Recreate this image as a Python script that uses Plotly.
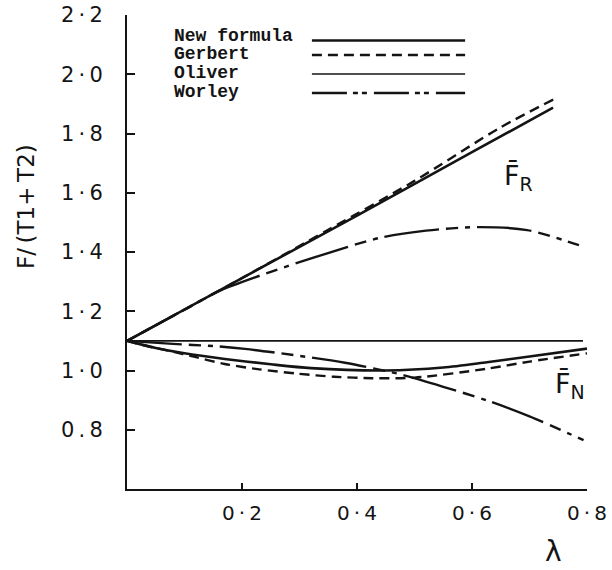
import plotly.graph_objects as go

# ---- data ----
lam_new_R = [0.0, 0.2, 0.4, 0.6, 0.741]
new_R = [1.100, 1.312, 1.523, 1.737, 1.887]

lam_gerb_R = [0.0, 0.2, 0.35, 0.5, 0.649, 0.744]
gerb_R = [1.100, 1.312, 1.475, 1.640, 1.820, 1.917]

lam_worl_R = [0.0, 0.1, 0.16, 0.25, 0.323, 0.44, 0.52, 0.609, 0.696, 0.786]
worl_R = [1.100, 1.205, 1.268, 1.333, 1.380, 1.448, 1.472, 1.484, 1.474, 1.423]

lam_oliv = [0.0, 0.793]
oliv = [1.100, 1.100]

lam_new_N = [0.0, 0.05, 0.1, 0.17, 0.25, 0.32, 0.45, 0.55, 0.626, 0.7, 0.8]
new_N = [1.100, 1.076, 1.058, 1.039, 1.021, 1.008, 1.000, 1.010, 1.028, 1.047, 1.074]

lam_gerb_N = [0.0, 0.04, 0.072, 0.12, 0.17, 0.23, 0.298, 0.36, 0.426, 0.5, 0.626, 0.7, 0.8]
gerb_N = [1.100, 1.080, 1.067, 1.045, 1.022, 1.004, 0.989, 0.979, 0.974, 0.976, 1.006, 1.030, 1.058]

lam_worl_N = [0.0, 0.08, 0.153, 0.205, 0.29, 0.379, 0.48, 0.55, 0.626, 0.7, 0.794]
worl_N = [1.100, 1.090, 1.082, 1.073, 1.052, 1.026, 0.985, 0.945, 0.899, 0.845, 0.765]

x_ticks = [0.2, 0.4, 0.6, 0.8]
x_ticktext = ["0\u2009·\u20092", "0\u2009·\u20094", "0\u2009·\u20096", "0\u2009·\u20098"]
y_ticks = [0.8, 1.0, 1.2, 1.4, 1.6, 1.8, 2.0, 2.2]
y_ticktext = ["0\u2009.\u20098", "1\u2009·\u20090", "1\u2009·\u20092", "1\u2009·\u20094",
              "1\u2009·\u20096", "1\u2009·\u20098", "2\u2009·\u20090", "2\u2009·\u20092"]

legend_names = ["New formula", "Gerbert", "Oliver", "Worley"]

INK = "#141414"
WORLEY_DASH = "55px,7px,12px,7px,5px,7px"

styles = {
    "New formula": dict(color=INK, width=2.6, dash="solid"),
    "Gerbert": dict(color=INK, width=2.4, dash="10px,6px"),
    "Oliver": dict(color=INK, width=1.6, dash="solid"),
    "Worley": dict(color=INK, width=2.4, dash=WORLEY_DASH),
}

fig = go.Figure()

series = [
    ("Oliver", lam_oliv, oliv),
    ("New formula", lam_new_R, new_R),
    ("Gerbert", lam_gerb_R, gerb_R),
    ("Worley", lam_worl_R, worl_R),
    ("New formula", lam_new_N, new_N),
    ("Gerbert", lam_gerb_N, gerb_N),
    ("Worley", lam_worl_N, worl_N),
]
for name, xs, ys in series:
    fig.add_trace(go.Scatter(x=xs, y=ys, mode="lines", name=name, showlegend=False,
                             line=dict(shape="spline", smoothing=0.8, **styles[name])))

# ---- hand-made legend: text left, line sample right ----
text_y = [0.9557, 0.9177, 0.8776, 0.8376]
line_y = [0.9462, 0.9156, 0.8755, 0.8354]
for name, ty, ly in zip(legend_names, text_y, line_y):
    fig.add_annotation(x=0.0978, y=ty, xref="paper", yref="paper", text="<b>" + name + "</b>",
                       showarrow=False, xanchor="left", yanchor="middle",
                       font=dict(family="Liberation Mono", size=18, color=INK))
    st = styles[name]
    dash = "35px,6px,5px,4px,5px,7px" if name == "Worley" else st["dash"]
    fig.add_shape(type="line", xref="paper", yref="paper", x0=0.402, x1=0.735,
                  y0=ly, y1=ly, line=dict(color=INK, width=st["width"], dash=dash))

# curve labels
fig.add_annotation(x=0.68, y=1.65, text="F\u0304<sub>R</sub>", showarrow=False,
                   xanchor="center", yanchor="middle",
                   font=dict(family="DejaVu Sans", size=27, color=INK))
fig.add_annotation(x=0.77, y=0.95, text="F\u0304<sub>N</sub>", showarrow=False,
                   xanchor="center", yanchor="middle",
                   font=dict(family="DejaVu Sans", size=27, color=INK))

# axis titles
fig.add_annotation(x=-0.2196, y=0.597, xref="paper", yref="paper",
                   text="F/\u2009(T1+\u2009T2)",
                   textangle=-90, showarrow=False, xanchor="center", yanchor="middle",
                   font=dict(family="DejaVu Sans", size=23, color=INK))
fig.add_annotation(x=0.928, y=-0.131, xref="paper", yref="paper", text="λ",
                   showarrow=False, xanchor="center", yanchor="middle",
                   font=dict(family="DejaVu Sans", size=28, color=INK))

fig.update_layout(
    width=612, height=570,
    margin=dict(l=127, r=25, t=15, b=81, autoexpand=False),
    paper_bgcolor="white", plot_bgcolor="white",
    showlegend=False,
    font=dict(family="DejaVu Sans", size=20, color=INK),
)
fig.update_xaxes(range=[0, 0.8], tickvals=x_ticks, ticktext=x_ticktext, automargin=False,
                 showgrid=False, zeroline=False, showline=True, linecolor=INK, linewidth=2,
                 ticks="inside", ticklen=6, tickwidth=2, tickcolor=INK,
                 ticklabelstandoff=5, ticklabeloverflow="allow", tickfont=dict(size=20))
fig.update_yaxes(range=[0.6, 2.2], tickvals=y_ticks, ticktext=y_ticktext, automargin=False,
                 showgrid=False, zeroline=False, showline=True, linecolor=INK, linewidth=2,
                 ticks="inside", ticklen=8, tickwidth=2, tickcolor=INK,
                 ticklabelstandoff=18, ticklabeloverflow="allow", tickfont=dict(size=21))

# remove the browser's default 8px body margin so the 612x570 figure fills the window
fig.write_html("out.html", config={"displayModeBar": False},
               post_script="document.body.style.margin='0';document.body.style.overflow='hidden';")
